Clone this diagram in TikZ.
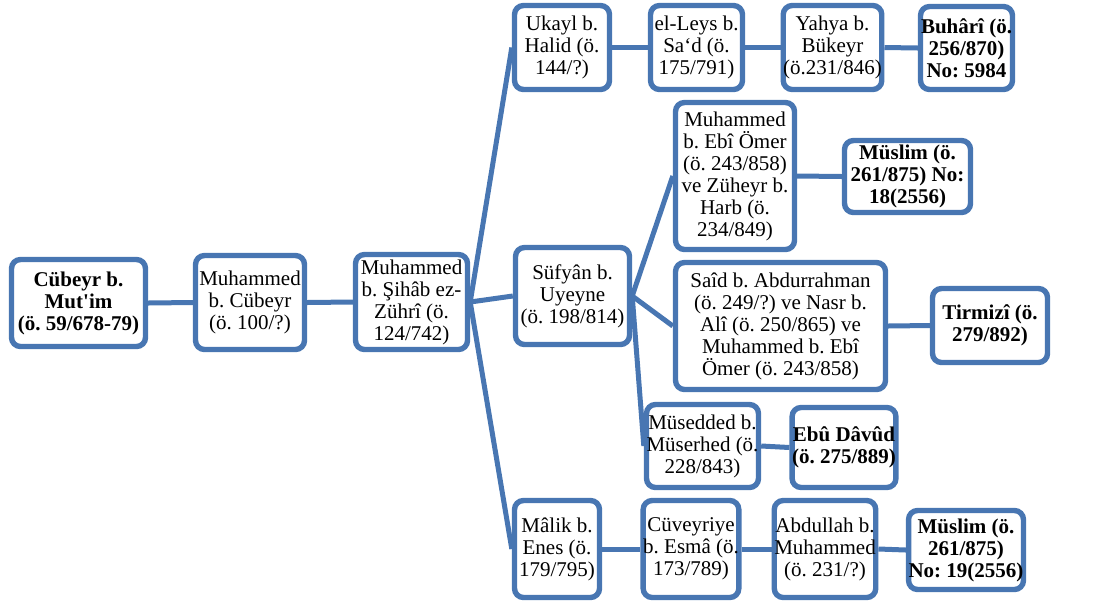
\documentclass[tikz,border=0pt]{standalone}
\usepackage{fontspec}
\setmainfont{Liberation Serif}
\usetikzlibrary{backgrounds}
\definecolor{boxblue}{RGB}{72,118,178}
\frenchspacing
\newcommand{\straightq}{{\addfontfeatures{Ligatures=TeXOff}'}}
\begin{document}
\begin{tikzpicture}[x=1pt,y=-1pt,
  box/.style={draw=boxblue, line width=5.4pt, fill=white, rounded corners=9pt,
    align=center, inner sep=0pt, font=\fontsize{21}{22}\selectfont},
  bbox/.style={box, font=\fontsize{21}{22}\selectfont\bfseries},
  conn/.style={draw=boxblue, line width=5pt}]
\useasboundingbox (0,0) rectangle (1118,606);
\node[bbox, minimum width=134pt, minimum height=87pt] (A) at (78.5,303) {Cübeyr b.\\Mut\straightq im\\(ö. 59/678-79)};
\node[box, minimum width=109pt, minimum height=94pt] (B) at (250,302.5) {Muhammed\\b. Cübeyr\\(ö. 100/?)};
\node[box, minimum width=112pt, minimum height=95pt] (C) at (411.5,302) {Muhammed\\b. Şihâb ez-\\Zührî (ö.\\124/742)};
\node[box, minimum width=95pt, minimum height=84pt] (D) at (562,47.5) {Ukayl b.\\Halid (ö.\\144/?)};
\node[box, minimum width=92pt, minimum height=84pt] (E) at (696.5,47.5) {el-Leys b.\\Sa‘d (ö.\\175/791)};
\node[box, minimum width=94pt, minimum height=84pt] (F) at (832.5,47.5) {Yahya b.\\Bükeyr\\(ö.231/846)};
\node[bbox, minimum width=92pt, minimum height=83pt] (G) at (966.5,48) {Buhârî (ö.\\256/870)\\No: 5984};
\node[box, minimum width=114pt, minimum height=97pt] (H) at (572.5,296) {Süfyân b.\\Uyeyne\\(ö. 198/814)};
\node[box, minimum width=119pt, minimum height=147pt] (I) at (735,176) {Muhammed\\b. Ebî Ömer\\(ö. 243/858)\\ve Züheyr b.\\Harb (ö.\\234/849)};
\node[bbox, minimum width=126pt, minimum height=72pt] (J) at (907.5,176.5) {Müslim (ö.\\261/875) No:\\18(2556)};
\node[box, minimum width=210pt, minimum height=127pt] (K) at (780.5,326) {Saîd b. Abdurrahman\\(ö. 249/?) ve Nasr b.\\Alî (ö. 250/865) ve\\Muhammed b. Ebî\\Ömer (ö. 243/858)};
\node[bbox, minimum width=115pt, minimum height=74pt] (L) at (990,325.5) {Tirmizî (ö.\\279/892)};
\node[box, minimum width=106pt, minimum height=83pt] (M) at (702.5,446) {Müsedded b.\\Müserhed (ö.\\228/843)};
\node[bbox, minimum width=93pt, minimum height=80pt] (N) at (844,447.5) {Ebû Dâvûd\\(ö. 275/889)};
\node[box, minimum width=85pt, minimum height=97pt] (O) at (557,549) {Mâlik b.\\Enes (ö.\\179/795)};
\node[box, minimum width=93pt, minimum height=97pt] (P) at (691,549) {Cüveyriye\\b. Esmâ (ö.\\173/789)};
\node[box, minimum width=91pt, minimum height=97pt] (Q) at (825,549) {Abdullah b.\\Muhammed\\(ö. 231/?)};
\node[bbox, minimum width=103pt, minimum height=79pt] (R) at (966,550) {Müslim (ö.\\261/875)\\No: 19(2556)};
\begin{scope}[on background layer]
\draw[conn] (A.east) -- (B.west);
\draw[conn] (B.east) -- (C.west);
\draw[conn] (C.east) -- (D.west);
\draw[conn] (C.east) -- (H.west);
\draw[conn] (C.east) -- (O.west);
\draw[conn] (D.east) -- (E.west);
\draw[conn] (E.east) -- (F.west);
\draw[conn] (F.east) -- (G.west);
\draw[conn] (H.east) -- (I.west);
\draw[conn] (H.east) -- (K.west);
\draw[conn] (H.east) -- (M.west);
\draw[conn] (I.east) -- (J.west);
\draw[conn] (K.east) -- (L.west);
\draw[conn] (M.east) -- (N.west);
\draw[conn] (O.east) -- (P.west);
\draw[conn] (P.east) -- (Q.west);
\draw[conn] (Q.east) -- (R.west);
\end{scope}
\end{tikzpicture}
\end{document}
